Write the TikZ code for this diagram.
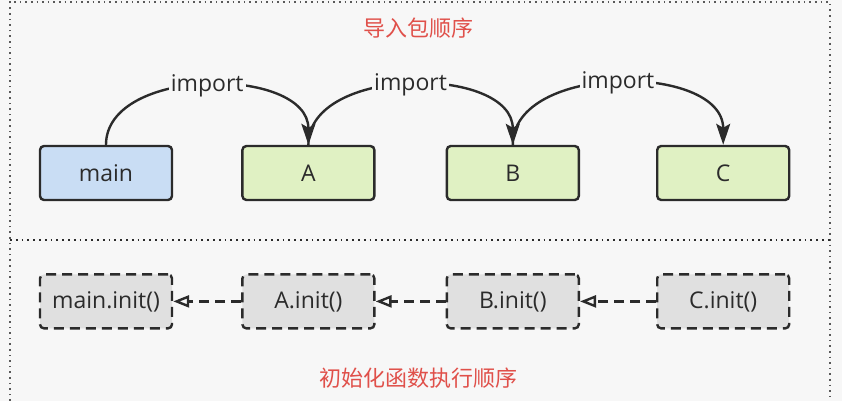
\documentclass[tikz,border=0pt]{standalone}
\usepackage{fontspec}
\setmainfont{Open Sans}
\newfontfamily\cjk{Noto Sans CJK SC}
\usepackage{tikz}
\usetikzlibrary{arrows.meta,positioning}

\definecolor{bgpaper}{HTML}{F7F7F7}
\definecolor{inkline}{HTML}{2B2B2B}
\definecolor{titlered}{HTML}{E0504A}
\definecolor{pkgblue}{HTML}{C9DDF4}
\definecolor{pkggreen}{HTML}{E0F1C3}
\definecolor{initgray}{HTML}{E0E0E0}

\begin{document}
\begin{tikzpicture}[
    x=0.5pt, y=0.5pt,
    node distance=36pt,
    line width=1.2pt,
    every node/.style={font=\fontsize{11.5}{13}\selectfont, text=inkline},
    pkg/.style={
        rectangle,
        rounded corners=2pt,
        draw=inkline,
        minimum width=66pt,
        minimum height=27pt,
        inner sep=2pt
    },
    initbox/.style={
        pkg,
        fill=initgray,
        dash pattern=on 5pt off 3pt
    },
    title/.style={font=\cjk\fontsize{11}{13}\selectfont, text=titlered},
    imp/.style={-{Stealth[length=10.5pt,width=7pt,inset=2pt]}, draw=inkline, out=90, in=90, looseness=1},
    calls/.style={-{Triangle[open,length=8pt,width=6pt]}, draw=inkline, dash pattern=on 5pt off 3pt}
]

% page and frame
\fill[bgpaper] (0,0) rectangle (842,-401);
\useasboundingbox (0,0) rectangle (842,-401);
\draw[gray!70!black, line width=0.8pt, dotted] (10,-401) -- (10,-2) -- (830,-2) -- (830,-401);
\draw[inkline, line width=0.9pt, dotted] (10,-240) -- (830,-240);

% import order
\node[title] (toptitle) at (418,-28) {导入包顺序};
\node[pkg, fill=pkgblue] (main) at (106,-173) {main};
\node[pkg, fill=pkggreen, right=34pt of main] (A) {A};
\node[pkg, fill=pkggreen, right=35pt of A] (B) {B};
\node[pkg, fill=pkggreen, right=38pt of B] (C) {C};

\draw[imp] (main.north) to node[fill=bgpaper, inner sep=1pt] {import} (A.north);
\draw[imp] (A.north) to node[fill=bgpaper, inner sep=1pt] {import} (B.north);
\draw[imp] (B.north) to node[fill=bgpaper, inner sep=1pt] {import} (C.north);

% init order
\node[initbox, below=of main] (maininit) {main.init()};
\node[initbox, below=of A] (Ainit) {A.init()};
\node[initbox, below=of B] (Binit) {B.init()};
\node[initbox, below=of C] (Cinit) {C.init()};

\draw[calls] (Cinit) -- (Binit);
\draw[calls] (Binit) -- (Ainit);
\draw[calls] (Ainit) -- (maininit);

\node[title] (bottitle) at (418,-378) {初始化函数执行顺序};

\end{tikzpicture}
\end{document}
